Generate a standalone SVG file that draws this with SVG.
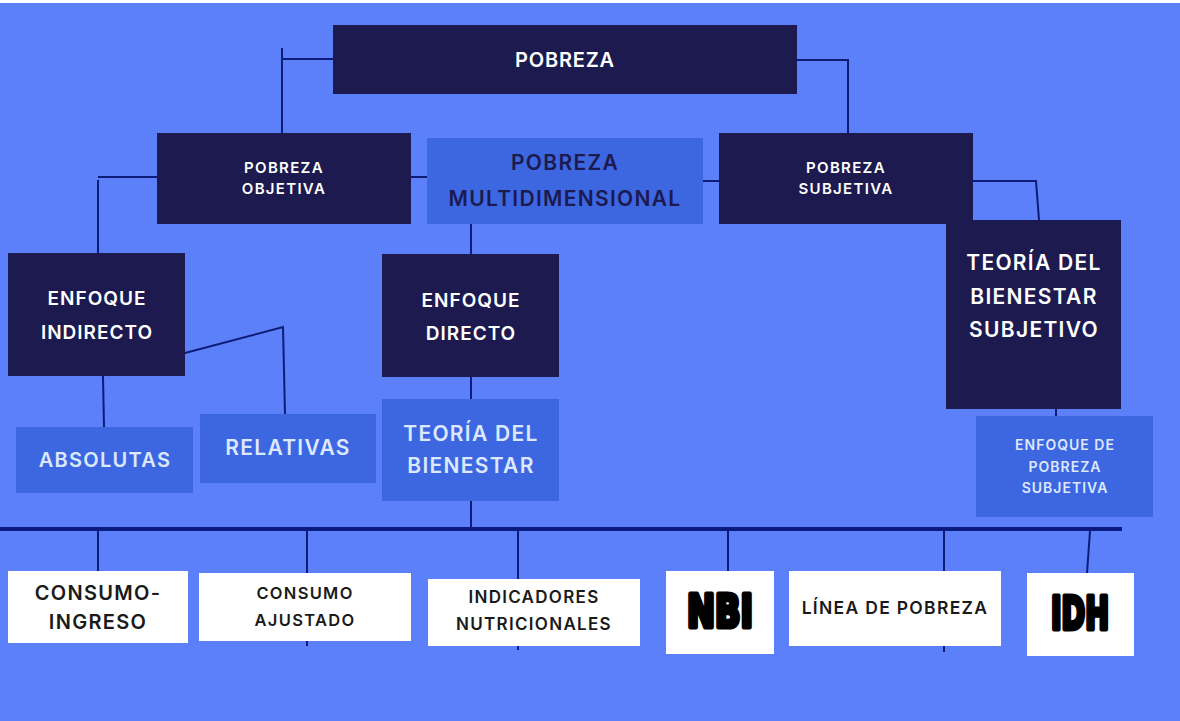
<svg xmlns="http://www.w3.org/2000/svg" width="1180" height="721" viewBox="0 0 1180 721">
<style>
.bg{fill:#5b80f9}
.dark{fill:#1c1a4f}
.mid{fill:#3d67e0}
.white{fill:#ffffff}
.ln{stroke:#0e1c78;stroke-width:2;fill:none}
.t{font-family:Inter,"Open Sans","Liberation Sans",sans-serif;font-weight:600;text-anchor:middle;letter-spacing:1.3px}
.tw{fill:#ffffff}
.tl{fill:#dce8ff}
.tn{fill:#1c1a4f}
.tb{fill:#1a1a1a}
.heavy{font-family:"DejaVu Sans","Liberation Sans",sans-serif;font-weight:bold;text-anchor:middle;fill:#000;stroke:#000;stroke-width:5;stroke-linejoin:round}
</style>
<rect x="0" y="0" width="1180" height="721" fill="#ffffff"/>
<rect class="bg" x="0" y="3" width="1180" height="718"/>

<g id="connectors">
  <polyline class="ln" points="333,59 282,59"/>
  <line class="ln" x1="282" y1="48" x2="282" y2="133"/>
  <polyline class="ln" points="797,60 848,60 848,133"/>
  <polyline class="ln" points="157,177 98,177"/>
  <line class="ln" x1="98" y1="180" x2="98" y2="253"/>
  <line class="ln" x1="411" y1="177" x2="427" y2="177"/>
  <line class="ln" x1="703" y1="181" x2="719" y2="181"/>
  <polyline class="ln" points="973,181 1036,181 1039,220"/>
  <line class="ln" x1="471" y1="224" x2="471" y2="254"/>
  <line class="ln" x1="471" y1="377" x2="471" y2="399"/>
  <line class="ln" x1="471" y1="501" x2="471" y2="529"/>
  <line class="ln" x1="103" y1="376" x2="104" y2="427"/>
  <polyline class="ln" points="185,353 283,327 285,414"/>
  <line class="ln" x1="1056" y1="409" x2="1056" y2="416"/>
  <line x1="0" y1="529" x2="1122" y2="529" stroke="#0a1a80" stroke-width="4"/>
  <line class="ln" x1="98" y1="531" x2="98" y2="571"/>
  <line class="ln" x1="307" y1="531" x2="307" y2="573"/>
  <line class="ln" x1="518" y1="531" x2="518" y2="579"/>
  <line class="ln" x1="728" y1="531" x2="728" y2="571"/>
  <line class="ln" x1="944" y1="531" x2="944" y2="571"/>
  <line class="ln" x1="1090" y1="531" x2="1087" y2="573"/>
  <line class="ln" x1="307" y1="641" x2="307" y2="646"/>
  <line class="ln" x1="518" y1="646" x2="518" y2="650"/>
  <line class="ln" x1="944" y1="646" x2="944" y2="652"/>
</g>

<g id="pobreza">
  <rect class="dark" x="333" y="25" width="464" height="69"/>
  <text class="t tw" x="565" y="67" font-size="20" style="letter-spacing:0.8px">POBREZA</text>
</g>
<g id="pobreza-objetiva">
  <rect class="dark" x="157" y="133" width="254" height="91"/>
  <text class="t tw" x="284" y="173" font-size="15">POBREZA</text>
  <text class="t tw" x="284" y="194" font-size="15">OBJETIVA</text>
</g>
<g id="pobreza-multidimensional">
  <rect class="mid" x="427" y="138" width="276" height="86"/>
  <text class="t tn" x="565" y="170" font-size="21">POBREZA</text>
  <text class="t tn" x="565" y="206" font-size="21">MULTIDIMENSIONAL</text>
</g>
<g id="pobreza-subjetiva">
  <rect class="dark" x="719" y="133" width="254" height="91"/>
  <text class="t tw" x="846" y="173" font-size="15">POBREZA</text>
  <text class="t tw" x="846" y="194" font-size="15">SUBJETIVA</text>
</g>
<g id="enfoque-indirecto">
  <rect class="dark" x="8" y="253" width="177" height="123"/>
  <text class="t tw" x="97" y="305" font-size="19" style="letter-spacing:1px">ENFOQUE</text>
  <text class="t tw" x="97" y="339" font-size="19" style="letter-spacing:1px">INDIRECTO</text>
</g>
<g id="enfoque-directo">
  <rect class="dark" x="382" y="254" width="177" height="123"/>
  <text class="t tw" x="471" y="307" font-size="19" style="letter-spacing:1px">ENFOQUE</text>
  <text class="t tw" x="471" y="340" font-size="19" style="letter-spacing:1px">DIRECTO</text>
</g>
<g id="teoria-bienestar-subjetivo">
  <rect class="dark" x="946" y="220" width="175" height="189"/>
  <text class="t tw" x="1034" y="270" font-size="21">TEORÍA DEL</text>
  <text class="t tw" x="1034" y="304" font-size="21">BIENESTAR</text>
  <text class="t tw" x="1034" y="337" font-size="21">SUBJETIVO</text>
</g>
<g id="absolutas">
  <rect class="mid" x="16" y="427" width="177" height="66"/>
  <text class="t tl" x="105" y="467" font-size="20">ABSOLUTAS</text>
</g>
<g id="relativas">
  <rect class="mid" x="200" y="414" width="176" height="69"/>
  <text class="t tl" x="288" y="455" font-size="21">RELATIVAS</text>
</g>
<g id="teoria-bienestar">
  <rect class="mid" x="382" y="399" width="177" height="102"/>
  <text class="t tl" x="471" y="441" font-size="21">TEORÍA DEL</text>
  <text class="t tl" x="471" y="473" font-size="21">BIENESTAR</text>
</g>
<g id="enfoque-pobreza-subjetiva">
  <rect class="mid" x="976" y="416" width="177" height="101"/>
  <text class="t tl" x="1065" y="450" font-size="14" style="letter-spacing:1px">ENFOQUE DE</text>
  <text class="t tl" x="1065" y="472" font-size="14" style="letter-spacing:1px">POBREZA</text>
  <text class="t tl" x="1065" y="493" font-size="14" style="letter-spacing:1px">SUBJETIVA</text>
</g>
<g id="consumo-ingreso">
  <rect class="white" x="8" y="571" width="180" height="72"/>
  <text class="t tb" x="98" y="600" font-size="20">CONSUMO-</text>
  <text class="t tb" x="98" y="629" font-size="20">INGRESO</text>
</g>
<g id="consumo-ajustado">
  <rect class="white" x="199" y="573" width="212" height="68"/>
  <text class="t tb" x="305" y="599" font-size="16.5">CONSUMO</text>
  <text class="t tb" x="305" y="626" font-size="16.5">AJUSTADO</text>
</g>
<g id="indicadores-nutricionales">
  <rect class="white" x="428" y="579" width="212" height="67"/>
  <text class="t tb" x="534" y="603" font-size="17">INDICADORES</text>
  <text class="t tb" x="534" y="630" font-size="17">NUTRICIONALES</text>
</g>
<g id="nbi">
  <rect class="white" x="666" y="571" width="108" height="83"/>
  <text class="heavy" x="720" y="627" font-size="44" textLength="66" lengthAdjust="spacingAndGlyphs">NBI</text>
</g>
<g id="linea-de-pobreza">
  <rect class="white" x="789" y="571" width="212" height="75"/>
  <text class="t tb" x="895" y="614" font-size="17.5">LÍNEA DE POBREZA</text>
</g>
<g id="idh">
  <rect class="white" x="1027" y="573" width="107" height="83"/>
  <text class="heavy" x="1080" y="629" font-size="44" textLength="58" lengthAdjust="spacingAndGlyphs">IDH</text>
</g>
</svg>
